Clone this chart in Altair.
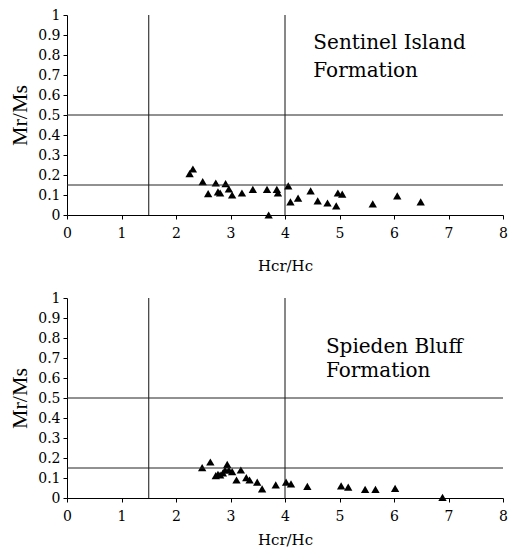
import altair as alt
import pandas as pd

# ---- data ----
x_ticks = [0, 1, 2, 3, 4, 5, 6, 7, 8]
y_ticks = [0, 0.1, 0.2, 0.3, 0.4, 0.5, 0.6, 0.7, 0.8, 0.9, 1.0]

sentinel_hcr_hc = [2.25, 2.31, 2.49, 2.59, 2.73, 2.77, 2.81, 2.91, 2.97, 3.03, 3.21, 3.41,
                   3.67, 3.70, 3.85, 3.87, 4.06, 4.10, 4.24, 4.47, 4.60, 4.78, 4.94, 4.97,
                   5.05, 5.61, 6.06, 6.49]
sentinel_mr_ms = [0.207, 0.230, 0.167, 0.107, 0.160, 0.116, 0.110, 0.157, 0.130, 0.100, 0.110, 0.128,
                  0.128, 0.000, 0.128, 0.110, 0.146, 0.066, 0.084, 0.121, 0.071, 0.060, 0.046, 0.110,
                  0.104, 0.056, 0.096, 0.066]

spieden_hcr_hc = [2.48, 2.63, 2.73, 2.77, 2.81, 2.86, 2.90, 2.94, 2.97, 3.03, 3.11, 3.19,
                  3.29, 3.35, 3.49, 3.58, 3.83, 4.02, 4.11, 4.41, 5.03, 5.16, 5.47, 5.66,
                  6.02, 6.89]
spieden_mr_ms = [0.152, 0.180, 0.112, 0.118, 0.115, 0.125, 0.140, 0.168, 0.140, 0.132, 0.090, 0.140,
                 0.102, 0.090, 0.079, 0.046, 0.066, 0.079, 0.071, 0.058, 0.061, 0.054, 0.043, 0.043,
                 0.048, 0.003]

hcr_hc_limits = [1.5, 4.0]
mr_ms_limits = [0.5, 0.15]

sentinel_label = ["Sentinel Island", "Formation"]
sentinel_label_x = [4.52, 4.52]
sentinel_label_y = [0.86, 0.72]

spieden_label = ["Spieden Bluff", "Formation"]
spieden_label_x = [4.75, 4.75]
spieden_label_y = [0.755, 0.635]

W, H = 436, 200
SERIF = "DejaVu Serif"
TIMES = "Liberation Serif"

xscale = alt.Scale(domain=[0, 8], nice=False)
yscale = alt.Scale(domain=[0, 1], nice=False)


def panel(xs, ys, label, lx, ly, x_title_pad):
    pts = pd.DataFrame({"hcr": xs, "mr": ys})
    vlines = pd.DataFrame({"hcr": hcr_hc_limits, "mr": [0] * len(hcr_hc_limits), "mr2": [1] * len(hcr_hc_limits)})
    hlines = pd.DataFrame({"mr": mr_ms_limits, "hcr": [0] * len(mr_ms_limits), "hcr2": [8] * len(mr_ms_limits)})
    txt = pd.DataFrame({"t": label, "hcr": lx, "mr": ly})

    xaxis = alt.Axis(values=x_ticks, title="Hcr/Hc", format="d",
                     labelOverlap=False, labelFlush=False, titlePadding=x_title_pad)
    yaxis = alt.Axis(values=y_ticks, title="Mr/Ms", format=".1~f",
                     labelOverlap=False, labelFlush=False)
    X = alt.X("hcr:Q", scale=xscale, axis=xaxis)
    Y = alt.Y("mr:Q", scale=yscale, axis=yaxis)

    points = alt.Chart(pts).mark_point(shape="triangle-up", filled=True, color="black",
                                       size=70, opacity=1).encode(x=X, y=Y)
    vr = alt.Chart(vlines).mark_rule(color="#111111", strokeWidth=1).encode(
        x=X, y=Y, y2="mr2:Q")
    hr = alt.Chart(hlines).mark_rule(color="#222222", strokeWidth=1).encode(
        y=Y, x=X, x2="hcr2:Q")
    tx = alt.Chart(txt).mark_text(align="left", baseline="middle", font=SERIF,
                                  fontSize=20, color="black").encode(
        x=X, y=Y, text="t:N")
    return alt.layer(points, vr, hr, tx).properties(width=W, height=H)


top = panel(sentinel_hcr_hc, sentinel_mr_ms, sentinel_label, sentinel_label_x, sentinel_label_y, 18)
bottom = panel(spieden_hcr_hc, spieden_mr_ms, spieden_label, spieden_label_x, spieden_label_y, 9)

chart = alt.vconcat(top, bottom, spacing=83, bounds="flush").properties(
    padding={"top": 0, "left": 0, "right": 0, "bottom": 0},
).configure_view(stroke=None).configure_axis(
    grid=False,
    domainColor="black",
    tickColor="black",
    tickSize=4,
    labelColor="black",
    labelFont=SERIF,
    labelFontSize=14,
    titleColor="black",
    titleFontWeight="normal",
).configure_axisX(
    labelPadding=7,
    titleFont=SERIF,
    titleFontSize=15,
).configure_axisY(
    labelPadding=3,
    titleFont=TIMES,
    titleFontSize=22,
    titlePadding=6,
)

chart.save("out.html", embed_options={"renderer": "svg", "actions": False})
